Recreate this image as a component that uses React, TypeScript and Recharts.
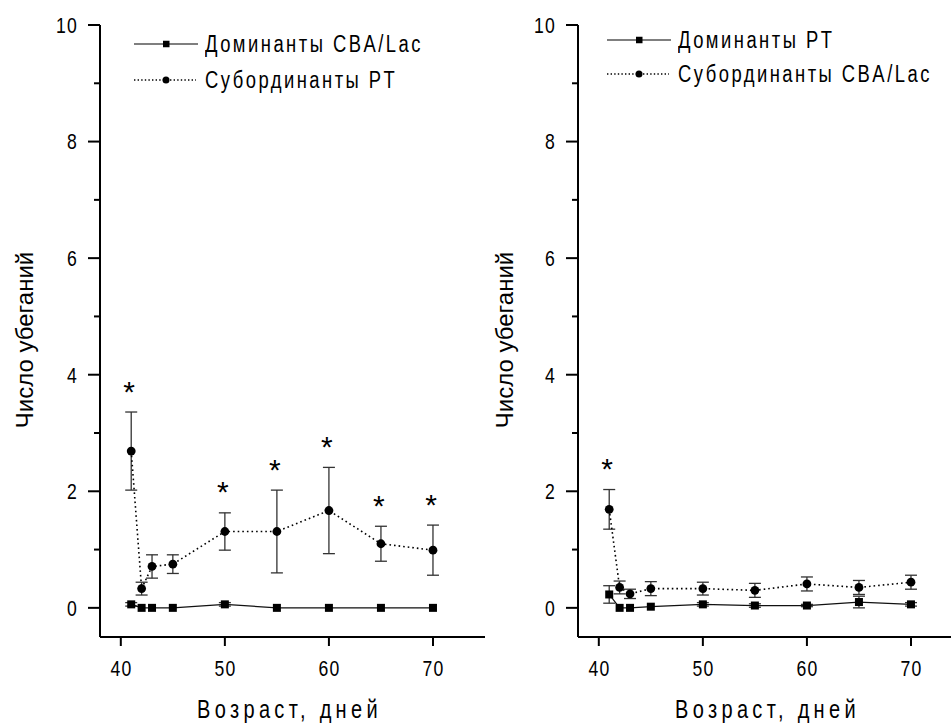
import React from 'react';
import { ComposedChart, Line, XAxis, YAxis, ErrorBar } from 'recharts';

// ---------- data ----------
const days = [41, 42, 43, 45, 50, 55, 60, 65, 70];

// Left panel: Dominants CBA/Lac vs Subordinates PT
const leftDomMean = [0.06, 0, 0, 0, 0.06, 0, 0, 0, 0];
const leftDomErr = [0.03, 0, 0, 0, 0.03, 0, 0, 0, 0];
const leftSubMean = [2.69, 0.33, 0.71, 0.75, 1.31, 1.31, 1.67, 1.1, 0.99];
const leftSubErr = [0.67, 0.11, 0.2, 0.16, 0.32, 0.71, 0.74, 0.3, 0.43];
const leftStars = [true, false, false, false, true, true, true, true, true];

// Right panel: Dominants PT vs Subordinates CBA/Lac
const rightDomMean = [0.23, 0, 0, 0.02, 0.06, 0.04, 0.04, 0.1, 0.06];
const rightDomErr = [0.15, 0, 0, 0, 0.03, 0.03, 0.02, 0.1, 0.03];
const rightSubMean = [1.69, 0.35, 0.24, 0.33, 0.33, 0.3, 0.41, 0.35, 0.44];
const rightSubErr = [0.34, 0.11, 0.08, 0.12, 0.11, 0.12, 0.12, 0.12, 0.12];
const rightStars = [true, false, false, false, false, false, false, false, false];

const xTicks = [40, 50, 60, 70];
const yTicks = [0, 1, 2, 3, 4, 5, 6, 7, 8, 9, 10];

const leftNames = ['Доминанты CBA/Lac', 'Субординанты PT'];
const rightNames = ['Доминанты PT', 'Субординанты CBA/Lac'];
const xTitle = 'Возраст, дней';
const yTitle = 'Число убеганий';

const STAR_GAP = 0.47;

const FONT = '"Liberation Sans", Arial, sans-serif';
const SX = 0.8; // horizontal condensing of the narrow lettering

function buildRows(dm: number[], de: number[], sm: number[], se: number[], st: boolean[]) {
  return days.map((d, i) => ({
    day: d,
    dom: dm[i],
    domErr: de[i],
    sub: sm[i],
    subErr: se[i],
    star: st[i] ? sm[i] + se[i] + STAR_GAP : null,
  }));
}

const leftRows = buildRows(leftDomMean, leftDomErr, leftSubMean, leftSubErr, leftStars);
const rightRows = buildRows(rightDomMean, rightDomErr, rightSubMean, rightSubErr, rightStars);

// ---------- renderers ----------
const NText = ({ x, y, anchor, size, spacing, dy, children }: any) => (
  <text
    transform={`translate(${x},${y}) scale(${SX},1)`}
    x={0}
    y={0}
    dy={dy}
    textAnchor={anchor}
    fontSize={size}
    letterSpacing={spacing}
    fontFamily={FONT}
    fill="#000"
  >
    {children}
  </text>
);

const SquareDot = (p: any) => {
  const { cx, cy, index } = p;
  if (cx == null || cy == null) return <g key={`s${index}`} />;
  return <rect key={`s${index}`} x={cx - 4} y={cy - 4} width={8} height={8} fill="#000" />;
};

const CircleDot = (p: any) => {
  const { cx, cy, index } = p;
  if (cx == null || cy == null) return <g key={`c${index}`} />;
  return <circle key={`c${index}`} cx={cx} cy={cy} r={4.4} fill="#000" />;
};

const StarDot = (p: any) => {
  const { cx, cy, index, payload } = p;
  if (cx == null || cy == null || payload == null || payload.star == null) return <g key={`t${index}`} />;
  return (
    <text key={`t${index}`} x={cx - 2} y={cy + 17} textAnchor="middle" fontSize={30} fontFamily={FONT} fill="#000">
      *
    </text>
  );
};

const YTick = (p: any) => {
  const { x, y, payload } = p;
  const v = payload.value;
  const major = v % 2 === 0;
  const len = major ? 12 : 6;
  return (
    <g>
      <line x1={x - len} x2={x} y1={y} y2={y} stroke="#000" strokeWidth={2} />
      {major && (
        <NText x={x - 22} y={y} dy="0.36em" anchor="end" size={22} spacing={1.5}>
          {v}
        </NText>
      )}
    </g>
  );
};

const XTick = (p: any) => {
  const { x, y, payload } = p;
  return (
    <NText x={x + 0.6} y={y} dy="0.71em" anchor="middle" size={22} spacing={1.5}>
      {payload.value}
    </NText>
  );
};

const makeYTitle = (bx: number) => (p: any) => {
  const vb = p.viewBox || {};
  const cy = (vb.y ?? 25) + (vb.height ?? 612) / 2 + 9;
  return (
    <text
      x={bx}
      y={cy}
      transform={`rotate(-90, ${bx}, ${cy})`}
      textAnchor="middle"
      fontSize={24}
      fontFamily={FONT}
      fill="#000"
    >
      {yTitle}
    </text>
  );
};

const makeXTitle = () => (p: any) => {
  const vb = p.viewBox || {};
  const cx = (vb.x ?? 100) + (vb.width ?? 385) / 2;
  return (
    <NText x={cx - 3} y={718} anchor="middle" size={25} spacing={5.4}>
      {xTitle}
    </NText>
  );
};

const LegendBox = ({ names, left, top, rowGap }: { names: string[]; left: number; top: number; rowGap: number }) => (
  <div style={{ position: 'absolute', left, top }}>
    {names.map((n, i) => (
      <div
        key={n}
        style={{
          position: 'absolute',
          left: 0,
          top: i * rowGap,
          display: 'flex',
          alignItems: 'center',
          height: 30,
          whiteSpace: 'nowrap',
        }}
      >
        <svg width={64} height={12} style={{ display: 'block' }}>
          {i === 0 ? (
            <>
              <line x1={0} x2={64} y1={6} y2={6} stroke="#000" strokeWidth={1.2} />
              <rect x={29} y={2.75} width={6.5} height={6.5} fill="#000" />
            </>
          ) : (
            <>
              <line x1={0} x2={62} y1={6} y2={6} stroke="#000" strokeWidth={1.4} strokeDasharray="1.4 2.2" />
              <circle cx={32} cy={6} r={3.5} fill="#000" />
            </>
          )}
        </svg>
        <span
          style={{
            display: 'inline-block',
            marginLeft: 7,
            fontSize: 23,
            fontFamily: FONT,
            letterSpacing: '3.1px',
            color: '#000',
            lineHeight: '30px',
            transform: `scaleX(${SX})`,
            transformOrigin: 'left center',
          }}
        >
          {n}
        </span>
      </div>
    ))}
  </div>
);

type PanelProps = {
  left: number;
  rows: any[];
  names: string[];
  legendLeft: number;
  legendTop: number;
  rowGap: number;
  yTitleX: number;
};

function Panel({ left, rows, names, legendLeft, legendTop, rowGap, yTitleX }: PanelProps) {
  return (
    <div style={{ position: 'absolute', left, top: 0, width: 500, height: 724 }}>
      <ComposedChart width={500} height={724} data={rows} margin={{ top: 25, right: 15, bottom: 0, left: 20 }}>
        <XAxis
          dataKey="day"
          type="number"
          domain={[38, 75]}
          ticks={xTicks}
          allowDataOverflow
          height={87}
          tickSize={9}
          tickMargin={14}
          axisLine={{ stroke: '#000', strokeWidth: 2 }}
          tickLine={{ stroke: '#000', strokeWidth: 2 }}
          tick={<XTick />}
          label={{ content: makeXTitle() } as any}
        />
        <YAxis
          type="number"
          domain={[-0.5, 10]}
          ticks={yTicks}
          allowDataOverflow
          width={80}
          tickSize={0}
          tickMargin={0}
          tickLine={false}
          axisLine={{ stroke: '#000', strokeWidth: 2 }}
          tick={<YTick />}
          interval={0}
          label={{ content: makeYTitle(yTitleX) } as any}
        />
        <Line
          dataKey="dom"
          name={names[0]}
          stroke="#111"
          strokeWidth={1.2}
          dot={SquareDot}
          activeDot={false}
          isAnimationActive={false}
          type="linear"
        >
          <ErrorBar dataKey="domErr" direction="y" width={6} stroke="#333" strokeWidth={1.3} />
        </Line>
        <Line
          dataKey="sub"
          name={names[1]}
          stroke="#000"
          strokeWidth={1.6}
          strokeDasharray="1.6 3"
          dot={CircleDot}
          activeDot={false}
          isAnimationActive={false}
          type="linear"
        >
          <ErrorBar dataKey="subErr" direction="y" width={6} stroke="#333" strokeWidth={1.3} />
        </Line>
        <Line
          dataKey="star"
          stroke="none"
          dot={StarDot}
          activeDot={false}
          legendType="none"
          isAnimationActive={false}
          connectNulls={false}
        />
      </ComposedChart>
      <LegendBox names={names} left={legendLeft} top={legendTop} rowGap={rowGap} />
    </div>
  );
}

export default function App() {
  return (
    <div
      style={{
        position: 'absolute',
        left: 0,
        top: 0,
        width: 951,
        height: 724,
        overflow: 'hidden',
        background: '#fff',
      }}
    >
      <Panel left={0} rows={leftRows} names={leftNames} legendLeft={134} legendTop={29} rowGap={35.5} yTitleX={33} />
      <Panel left={478} rows={rightRows} names={rightNames} legendLeft={129} legendTop={24.5} rowGap={34.5} yTitleX={35} />
    </div>
  );
}
